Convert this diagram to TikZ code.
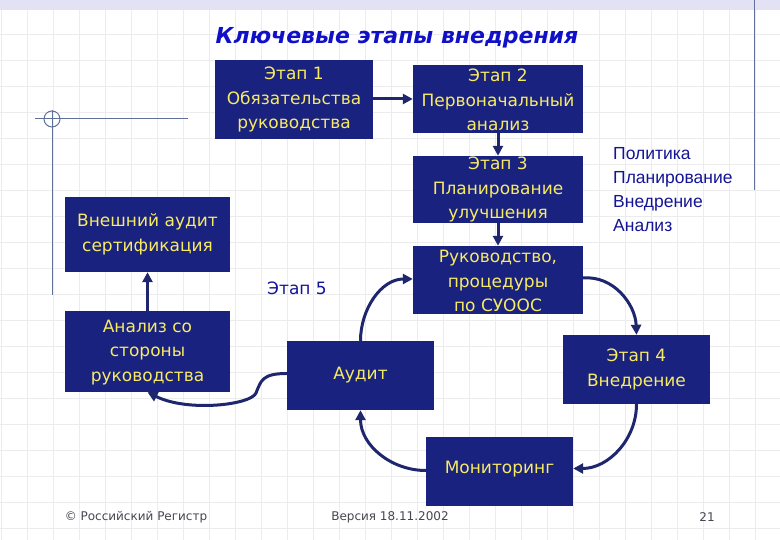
\documentclass[tikz,border=0pt]{standalone}
\usepackage{fontspec}
\setmainfont{DejaVu Sans}
\newfontfamily\arialfont{Liberation Sans}
\usetikzlibrary{arrows.meta}
\definecolor{boxfill}{RGB}{26,34,128}
\definecolor{boxtextc}{RGB}{248,235,100}
\definecolor{arrowc}{RGB}{30,38,110}
\definecolor{titlec}{RGB}{16,16,200}
\definecolor{navytext}{RGB}{20,20,150}
\definecolor{gridc}{RGB}{236,236,236}
\definecolor{decorc}{RGB}{95,112,155}
\definecolor{stripc}{RGB}{226,226,244}
\definecolor{footc}{RGB}{70,70,80}
\tikzset{
  stagebox/.style={draw=none, fill=boxfill, inner sep=0pt},
  boxlabel/.style={text=boxtextc, align=center, inner sep=0pt, font=\fontsize{17}{24.5}\selectfont},
  flow/.style={draw=arrowc, line width=3pt, -{Triangle[length=10pt,width=10pt]}},
  sidetext/.style={text=navytext, inner sep=0pt},
  foottext/.style={text=footc, inner sep=0pt, font=\fontsize{12}{14}\selectfont},
  decor/.style={draw=decorc, line width=1pt}
}
\begin{document}
\begin{tikzpicture}[x=1pt,y=1pt]
\useasboundingbox (0,0) rectangle (780,540);
\fill[white] (0,0) rectangle (780,540);
% grid
\foreach \i in {0,...,29} { \draw[gridc, line width=1pt] (26*\i+1,0) -- (26*\i+1,540); }
\foreach \j in {0,...,21} { \draw[gridc, line width=1pt] (0,540-26*\j-9) -- (780,540-26*\j-9); }
% top strip
\fill[stripc] (0,530) rectangle (780,540);
% decorations
\draw[decor] (754,540) -- (754,350);
\draw[decor] (35,421) -- (188,421);
\draw[decor] (52,430) -- (52,245);
\draw[decor] (52,421) circle (8);
% title
\node[text=titlec, font=\fontsize{22}{26}\selectfont\bfseries\itshape, inner sep=0pt] (title) at (397,502) {Ключевые этапы внедрения};
% boxes
\node[stagebox, minimum width=158, minimum height=79] (e1) at (294,440.5) {};
\node[boxlabel] (e1t) at (e1) {Этап 1\\Обязательства\\руководства};
\node[stagebox, minimum width=170, minimum height=68] (e2) at (498,441) {};
\node[boxlabel] (e2t) at (498,440) {Этап 2\\Первоначальный\\анализ};
\node[stagebox, minimum width=170, minimum height=67] (e3) at (498,350.5) {};
\node[boxlabel] (e3t) at (498,350.5) {Этап 3\\Планирование\\улучшения};
\node[stagebox, minimum width=170, minimum height=68] (ruk) at (498,260) {};
\node[boxlabel] (rukt) at (498,259) {Руководство,\\процедуры\\по СУООС};
\node[stagebox, minimum width=165, minimum height=75] (ext) at (147.5,305.5) {};
\node[boxlabel] (extt) at (ext) {Внешний аудит\\сертификация};
\node[stagebox, minimum width=165, minimum height=81] (ana) at (147.5,188.5) {};
\node[boxlabel] (anat) at (147.5,187.5) {Анализ со\\стороны\\руководства};
\node[stagebox, minimum width=147, minimum height=69] (aud) at (360.5,164.5) {};
\node[boxlabel] (audt) at (aud) {Аудит};
\node[stagebox, minimum width=147, minimum height=69] (e4) at (636.5,170.5) {};
\node[boxlabel] (e4t) at (e4) {Этап 4\\Внедрение};
\node[stagebox, minimum width=147, minimum height=69] (mon) at (499.5,68.5) {};
\node[boxlabel] (mont) at (499.5,71) {Мониторинг};
% side texts
\node[sidetext, anchor=west, align=left, font=\arialfont\fontsize{17.5}{24}\selectfont] (side) at (613,350) {Политика\\Планирование\\Внедрение\\Анализ};
\node[sidetext, font=\fontsize{17}{20}\selectfont] (et5) at (297,252) {Этап 5};
% footer
\node[foottext] (f1) at (136,23) {© Российский Регистр};
\node[foottext] (f2) at (390,23) {Версия 18.11.2002};
\node[foottext] (f3) at (707,23) {21};
% connectors
\draw[flow] (e1.east |- 0,441) -- (e2.west);
\draw[flow] (e2.south) -- (e3.north);
\draw[flow] (e3.south) -- (ruk.north);
\draw[flow] (ana.north) -- (ext.south);
\draw[flow] ([yshift=2]ruk.east) to[out=5,in=92] (e4.north);
\draw[flow] (e4.south) to[out=-90,in=0] ([yshift=3]mon.east);
\draw[flow] ([yshift=1]mon.west) to[out=180,in=-90] (aud.south);
\draw[flow] (aud.north) to[out=90,in=180] ([yshift=1]ruk.west);
\coordinate (bend) at (256,147);
\draw[flow] ([yshift=2]aud.west) .. controls +(-25,0) and +(5,12) .. (bend) .. controls +(-5,-12) and +(40,-20) .. (ana.south);
\end{tikzpicture}
\end{document}
